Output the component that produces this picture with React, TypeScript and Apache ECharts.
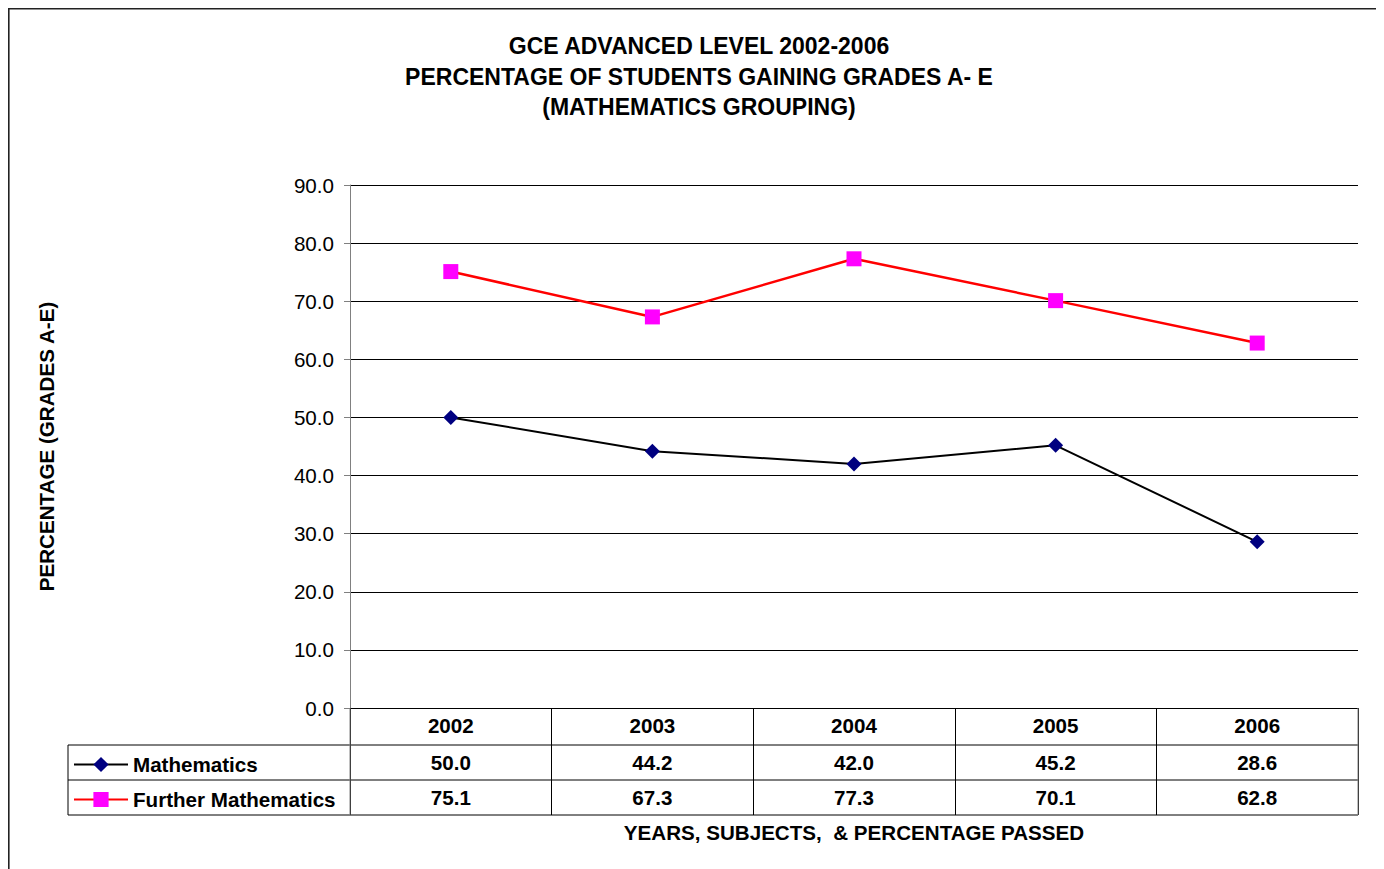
import React, { useEffect, useRef } from "react";
import * as echarts from "echarts";

const years = ["2002", "2003", "2004", "2005", "2006"];
const mathematics = [50.0, 44.2, 42.0, 45.2, 28.6];
const furtherMathematics = [75.1, 67.3, 77.3, 70.1, 62.8];
const titleLines = [
  "GCE ADVANCED LEVEL 2002-2006",
  "PERCENTAGE OF STUDENTS GAINING GRADES A- E",
  "(MATHEMATICS GROUPING)",
];
const yAxisTitle = "PERCENTAGE (GRADES A-E)";
const xAxisTitle = "YEARS, SUBJECTS,  & PERCENTAGE PASSED";

const FONT = "'Liberation Sans', Arial, sans-serif";
const FS = 20.6;

export default function App() {
  const ref = useRef<HTMLDivElement>(null);
  useEffect(() => {
    const chart = echarts.init(ref.current!, null, { renderer: "svg" });
    const gl = 342, gr = 1350, gt = 177, gb = 700;
    const row1 = 737, row2 = 772, row3 = 807, tl = 60;
    const ln = (x1: number, y1: number, x2: number, y2: number, color = "#000") => ({
      type: "line",
      shape: { x1, y1, x2, y2 },
      style: { stroke: color, lineWidth: 1 },
      z: 10,
    });
    const bold = { fontFamily: FONT, fontSize: FS, fontWeight: "bold", color: "#000" };
    chart.setOption({
      animation: false,
      textStyle: { fontFamily: FONT },
      title: {
        text: titleLines.join("\n"),
        left: 686,
        top: 18,
        textAlign: "center",
        textStyle: { fontFamily: FONT, fontSize: 23, fontWeight: "bold", color: "#000", lineHeight: 30.5 },
      },
      legend: {
        orient: "vertical",
        left: 60,
        top: 741,
        itemWidth: 54,
        itemHeight: 19,
        itemGap: 14,
        textStyle: { ...bold, lineHeight: 20 },
        data: ["Mathematics", "Further Mathematics"],
      },
      grid: { left: gl, top: gt, width: gr - gl, height: gb - gt, containLabel: false },
      xAxis: [
        {
          type: "category",
          data: years,
          boundaryGap: true,
          axisLine: { show: true, lineStyle: { color: "#000", width: 1 } },
          axisTick: { show: true, length: row3 - gb, lineStyle: { color: "#000" } },
          axisLabel: { margin: 7, ...bold },
          splitLine: { show: false },
          name: xAxisTitle,
          nameLocation: "middle",
          nameGap: 114,
          nameTextStyle: { ...bold, verticalAlign: "top" },
        },
        {
          type: "category",
          data: years,
          position: "bottom",
          offset: row1 - gb,
          axisLine: { show: false },
          axisTick: { show: false },
          axisLabel: {
            margin: 7,
            ...bold,
            formatter: (_v: string, i: number) => mathematics[i].toFixed(1),
          },
        },
        {
          type: "category",
          data: years,
          position: "bottom",
          offset: row2 - gb,
          axisLine: { show: false },
          axisTick: { show: false },
          axisLabel: {
            margin: 7,
            ...bold,
            formatter: (_v: string, i: number) => furtherMathematics[i].toFixed(1),
          },
        },
      ],
      yAxis: {
        type: "value",
        min: 0,
        max: 90,
        interval: 10,
        axisLine: { show: true, lineStyle: { color: "#808080", width: 1 } },
        axisTick: { show: true, length: 6, lineStyle: { color: "#808080" } },
        axisLabel: {
          margin: 16,
          fontFamily: FONT,
          fontSize: FS,
          color: "#000",
          formatter: (v: number) => v.toFixed(1),
        },
        splitLine: { show: true, lineStyle: { color: "#000", width: 1 } },
        name: yAxisTitle,
        nameLocation: "middle",
        nameGap: 293,
        nameTextStyle: bold,
      },
      series: [
        {
          name: "Mathematics",
          type: "line",
          data: mathematics,
          symbol: "diamond",
          symbolSize: 15,
          lineStyle: { color: "#000", width: 2 },
          itemStyle: { color: "#000080", borderWidth: 0 },
          z: 3,
        },
        {
          name: "Further Mathematics",
          type: "line",
          data: furtherMathematics,
          symbol: "rect",
          symbolSize: 15,
          lineStyle: { color: "#ff0000", width: 2.5 },
          itemStyle: { color: "#ff00ff", borderWidth: 0 },
          z: 3,
        },
      ],
      graphic: [
        {
          type: "rect",
          shape: { x: 0.8, y: 0.8, width: 1369.5, height: 900 },
          style: { fill: "none", stroke: "#222", lineWidth: 1.6 },
          z: 10,
        },
        ln(tl, row1, gr, row1),
        ln(tl, row2, gr, row2),
        ln(tl, row3, gr, row3),
        ln(tl, row1, tl, row3),
        ln(gl, gb, gl, row3, "#808080"),
        ln(gr, gb, gr, row3, "#808080"),
      ],
    });
    return () => chart.dispose();
  }, []);
  return <div ref={ref} style={{ width: 1372, height: 880 }} />;
}
